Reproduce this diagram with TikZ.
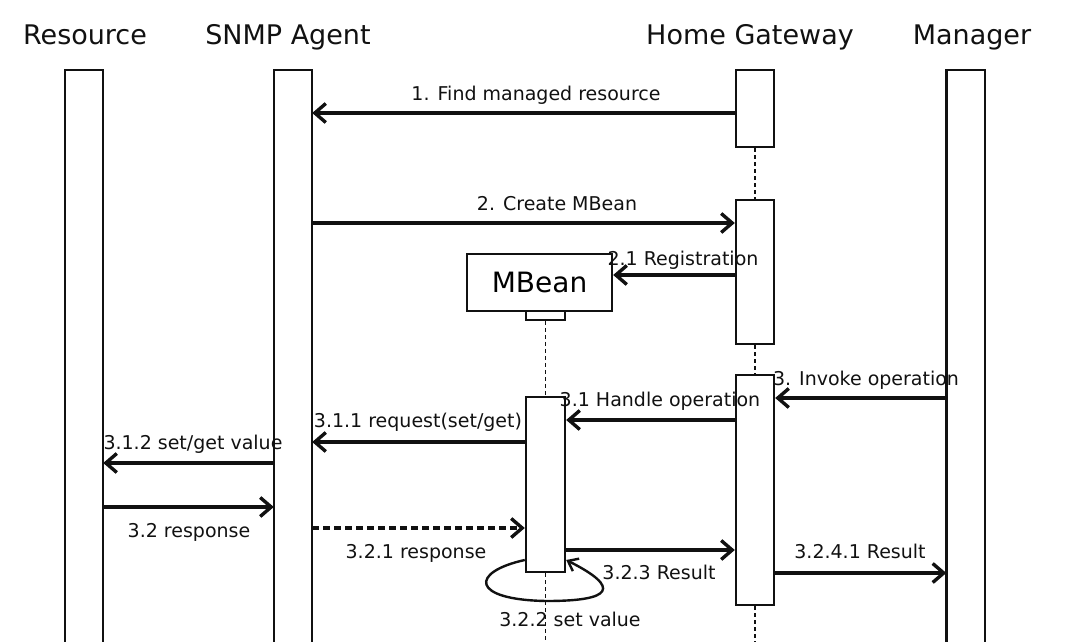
\documentclass[tikz,border=0pt]{standalone}
\usepackage{fontspec}
\setmainfont{DejaVu Sans}
\usetikzlibrary{arrows.meta}
\definecolor{ink}{HTML}{111111}
\begin{document}
\begin{tikzpicture}[x=1pt,y=-1pt,
    box/.style={draw=ink,line width=2.4pt,inner sep=0pt,minimum width=38pt},
    life/.style={inner sep=0pt,minimum width=38pt},
    msg/.style={draw=ink,line width=3.4pt,-{Straight Barb[length=11pt,width=19pt]}},
    lbl/.style={text=ink,anchor=base,font=\fontsize{19}{22}\selectfont},
    ttl/.style={text=ink,anchor=base,font=\fontsize{27}{30}\selectfont},
    dline/.style={draw=ink,line width=1.6pt,dash pattern=on 4pt off 3pt}]
      \useasboundingbox (0,0) rectangle (1072,642);
      \coordinate (bot) at (0,642);
      \node[ttl] (tres) at (85,45) {Resource};
      \node[ttl] (tagt) at (288,45) {SNMP Agent};
      \node[ttl] (thg) at (750,45) {Home Gateway};
      \node[ttl] (tmgr) at (972,45) {Manager};
      \foreach \n/\x in {res/84,agt/293,mgr/965.5}{
        \node[life,minimum height=572pt] (\n) at (\x,356) {};
        \draw[draw=ink,line width=2.4pt] (\n.south west) |- (\n.north east) -- (\n.south east);}
      \node[box,minimum height=77pt] (hga) at (755,108.5) {};
      \node[box,minimum height=144pt] (hgb) at (755,272) {};
      \node[box,minimum height=230pt] (hgc) at (755,490) {};
      \node[box,minimum width=145pt,minimum height=57pt,font=\fontsize{28}{32}\selectfont] (mb) at (539.5,282.5) {MBean};
      \node[box,minimum width=39pt,minimum height=9pt,line width=1.8pt] (mbp) at (545.5,315.5) {};
      \node[box,minimum width=39pt,minimum height=175pt] (mba) at (545.5,484.5) {};
      \draw[dline] (hga) -- (hgb);
      \draw[dline] (hgb) -- (hgc);
      \draw[dline] (hgc.south) -- (hgc.south |- bot);
      \draw[dline] (mbp) -- (mba);
      \draw[dline] (mba.south) -- (mba.south |- bot);
      \foreach \n/\y in {1/113,2/223,21/275,3/398,31/420,311/442,312/463,32/507,321/528,323/550,3241/573,322/560}
        \coordinate (y\n) at (0,\y);
      \draw[msg] (hga.west |- y1) -- (agt.east |- y1);
      \draw[msg] (agt.east |- y2) -- (hgb.west |- y2);
      \draw[msg] (hgb.west |- y21) -- (mb.east |- y21);
      \draw[msg] (mgr.west |- y3) -- (hgc.east |- y3);
      \draw[msg] (hgc.west |- y31) -- (mba.east |- y31);
      \draw[msg] (mba.west |- y311) -- (agt.east |- y311);
      \draw[msg] (agt.west |- y312) -- (res.east |- y312);
      \draw[msg] (res.east |- y32) -- (agt.west |- y32);
      \draw[msg,dash pattern=on 7pt off 4pt] (agt.east |- y321) -- (mba.west |- y321);
      \draw[msg] (mba.east |- y323) -- (hgc.west |- y323);
      \draw[msg] (hgc.east |- y3241) -- (mgr.west |- y3241);
      \draw[draw=ink,line width=2.4pt,-{Straight Barb[length=9pt,width=14pt]}]
        (mba.west |- y322) .. controls (470,572) and (470,600) .. (547,601)
        .. controls (612,601) and (622,588) .. (mba.east |- y322);
      \node[lbl] (l1) at (536,100) {1. Find managed resource};
      \node[lbl] (l2) at (557,210) {2. Create MBean};
      \node[lbl] (l21) at (683,265) {2.1 Registration};
      \node[lbl] (l3) at (866,385) {3. Invoke operation};
      \node[lbl] (l31) at (660,406) {3.1 Handle operation};
      \node[lbl] (l311) at (418,427) {3.1.1 request(set/get)};
      \node[lbl] (l312) at (193,449) {3.1.2 set/get value};
      \node[lbl] (l32) at (189,537) {3.2 response};
      \node[lbl] (l321) at (416,558) {3.2.1 response};
      \node[lbl] (l323) at (659,579) {3.2.3 Result};
      \node[lbl] (l322) at (570,626) {3.2.2 set value};
      \node[lbl] (l3241) at (860,558) {3.2.4.1 Result};
    \end{tikzpicture}
\end{document}
